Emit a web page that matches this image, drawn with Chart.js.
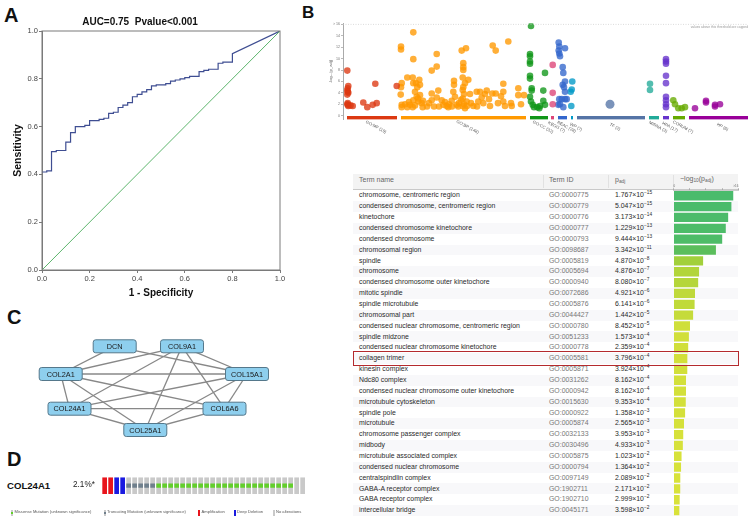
<!DOCTYPE html>
<html>
<head>
<meta charset="utf-8">
<title>Figure</title>
<script src="https://cdn.jsdelivr.net/npm/chart.js@4.4.1/dist/chart.umd.min.js"></script>
<style>
  body { margin: 0; background: #fff; }
  #page { position: relative; width: 753px; height: 526px; overflow: hidden; font-family: "Liberation Sans", Arial, sans-serif; color: #222; }
  #page canvas { position: absolute; }
  .txt { position: absolute; white-space: nowrap; }
  .panel { position: absolute; font-weight: bold; line-height: 1; color: #111; }
  sup { font-size: 4.8px; vertical-align: 2.8px; line-height: 0; }
  sub { font-size: 4.8px; vertical-align: -1.4px; line-height: 0; }
</style>
</head>
<body>
<div id="page">
  <div class="panel" style="left:4px;top:5px;font-size:20px">A</div>
  <div class="panel" style="left:302px;top:4px;font-size:17px">B</div>
  <div class="panel" style="left:7px;top:307px;font-size:20px">C</div>
  <div class="panel" style="left:7px;top:449px;font-size:20px">D</div>
  <canvas id="roc" width="300" height="305" style="left:0;top:0"></canvas>
  <canvas id="manhattan" width="453" height="140" style="left:300px;top:0"></canvas>
  <div id="table"></div>
  <canvas id="bars" width="66" height="333" style="left:673px;top:183px"></canvas>
  <canvas id="network" width="300" height="115" style="left:0;top:330px"></canvas>
  <canvas id="onco" width="215" height="30" style="left:95px;top:470px"></canvas>
</div>
<script>
// ---- A: ROC curve ----
var stepFpr = [0, 0.02, 0.04, 0.06, 0.10, 0.12, 0.14, 0.18, 0.20, 0.24, 0.26, 0.28, 0.30, 0.32, 0.34, 0.36, 0.38,
  0.40, 0.42, 0.44, 0.46, 0.48, 0.52, 0.54, 0.56, 0.58, 0.60, 0.62, 0.66, 0.68, 0.70, 0.74, 0.76, 0.80];
var stepTpr = [0.41, 0.415, 0.495, 0.50, 0.535, 0.575, 0.60, 0.605, 0.625, 0.63, 0.635, 0.655, 0.66, 0.68, 0.69, 0.70, 0.725,
  0.735, 0.745, 0.755, 0.77, 0.775, 0.78, 0.79, 0.795, 0.80, 0.805, 0.81, 0.83, 0.835, 0.84, 0.865, 0.87, 0.905];
var rocTitle = 'AUC=0.75  Pvalue<0.001';

// ---- B: g:Profiler manhattan ----
var srcNames = ['GO:MF (19)', 'GO:BP (148)', 'GO:CC (32)', 'KEGG (7)', 'REAC (28)', 'WP (7)', 'TF (2)', 'MIRNA (3)', 'HPA (17)', 'CORUM (7)', 'HP (6)'];
var srcStart = [4, 58, 187, 208, 215, 228, 234, 306, 320, 330, 346];
var srcEnd = [54, 183, 205, 211, 224, 230, 302, 316, 326, 342, 405];
var mfX = [4.3, 5.3, 4.7, 4.3, 5.3, 4.3, 4.7, 5.3, 9.7, 20.3, 24.3, 29.7, 33.7, 32.3, 53.7, 4.8, 5.0, 4.3, 7.5];
var mfY = [7.9, 5.2, 4.8, 4.4, 4.0, 3.7, 2.2, 1.7, 1.7, 2.3, 1.5, 1.9, 2.2, 5.6, 5.2, 4.2, 1.9, 2.0, 1.8];
var bpX = [58, 58, 58.7, 58, 57.7, 58.7, 58.7, 70.3, 70.3, 64.3, 69.7, 70.3, 73, 74.3, 72, 73.7, 77, 70.3, 67, 75.3,
  78.7, 69.7, 64.3, 77, 76.3, 79.7, 88.7, 93.7, 93.7, 88.7, 95.3, 88.7, 91, 93.7, 98.7, 100.3, 103.7, 105.3, 108.7, 111,
  111, 110.3, 112, 113.7, 115.3, 118.7, 123, 120.3, 120.3, 120.3, 119.7, 122, 120.3, 119.7, 121, 119.7, 123.7, 119.7, 122, 125.3,
  127, 130.3, 133.7, 135.3, 137, 138.7, 140.3, 143.7, 147, 149.7, 152.7, 149.3, 152.7, 160.3, 160.3, 160.3, 162, 165.3, 168.7, 175.3,
  175.3, 181, 62, 66, 72, 75, 80, 84, 86, 96, 102, 106, 109, 116, 118, 121, 124, 128, 134, 142, 146, 155, 158, 168, 178];
var bpY = [12.1, 11.6, 5.7, 5.0, 3.7, 1.9, 1.5, 14.6, 9.9, 6.7, 6.7, 5.7, 5.7, 5.0, 4.2, 3.3, 3.6, 2.7, 1.9, 2.5,
  2.2, 1.5, 1.5, 5.4, 6.3, 1.5, 7.9, 8.6, 10.8, 3.9, 4.4, 2.7, 1.6, 3.2, 2.7, 1.9, 1.7, 1.5, 2.6, 6.1,
  5.4, 4.2, 3.3, 1.9, 1.6, 11.4, 11.8, 9.2, 8.5, 8.0, 6.7, 5.7, 5.0, 4.5, 3.8, 3.0, 2.5, 1.7, 1.3, 6.3,
  3.8, 1.7, 4.2, 2.5, 4.2, 3.2, 2.2, 4.4, 1.7, 12.3, 11.4, 3.9, 3.9, 5.6, 4.2, 2.5, 1.7, 13.0, 1.7, 4.8,
  3.6, 3.6, 2.0, 2.4, 1.8, 3.0, 2.6, 1.6, 2.2, 1.6, 2.4, 2.0, 1.6, 2.2, 2.8, 2.0, 1.7, 2.2, 1.6, 3.8, 2.9, 2.2, 3.4, 2.2, 2.0];
var ccX = [188, 187, 187, 187, 187, 187, 187, 188.7, 188.7, 187, 188, 189.7, 191, 194.3, 197, 200.3, 202, 200.3, 202, 196.3];
var ccY = [15.7, 10.8, 10.4, 9.5, 9.1, 7.0, 6.5, 4.8, 4.4, 3.3, 2.5, 1.9, 1.5, 1.5, 1.7, 4.4, 7.5, 2.6, 1.9, 1.3];
var keggX = [209.7, 209.7, 209.7];
var keggY = [8.9, 4.0, 2.0];
var reacX = [215.7, 216.3, 215.7, 216.3, 222, 217, 219.7, 220.3, 222, 219.7, 221, 222, 216.3, 218.7, 222, 223.7, 217, 220.3, 215.3];
var reacY = [12.8, 12.1, 11.4, 10.9, 11.8, 10.4, 8.5, 7.5, 6.0, 5.4, 5.0, 4.2, 2.9, 2.9, 2.9, 2.9, 2.0, 1.5, 1.9];
var wpX = [229.3, 228.7, 227.7, 228.3];
var wpY = [6.0, 4.6, 4.2, 1.7];
var tfX = [267];
var tfY = [2.0];
var mirnaX = [307, 307];
var mirnaY = [5.6, 4.5];
var hpaX = [323, 323, 323, 323, 323, 323, 323, 323, 323];
var hpaY = [9.9, 9.5, 9.1, 7.0, 5.7, 3.3, 2.7, 2.0, 1.5];
var corumX = [330.3, 332, 335.3, 338.7, 342];
var corumY = [2.7, 2.0, 1.3, 1.3, 1.5];
var hpX = [352, 363, 363, 372, 372, 377];
var hpY = [1.3, 2.6, 2.3, 1.9, 1.6, 2.0];
var yTicks = [0, 2, 4, 6, 8, 10, 12, 14, 16];

// ---- B: table ----
var termNames = ['chromosome, centromeric region', 'condensed chromosome, centromeric region', 'kinetochore',
  'condensed chromosome kinetochore', 'condensed chromosome', 'chromosomal region', 'spindle', 'chromosome',
  'condensed chromosome outer kinetochore', 'mitotic spindle', 'spindle microtubule', 'chromosomal part',
  'condensed nuclear chromosome, centromeric region', 'spindle midzone', 'condensed nuclear chromosome kinetochore',
  'collagen trimer', 'kinesin complex', 'Ndc80 complex', 'condensed nuclear chromosome outer kinetochore',
  'microtubule cytoskeleton', 'spindle pole', 'microtubule', 'chromosome passenger complex', 'midbody',
  'microtubule associated complex', 'condensed nuclear chromosome', 'centralspindlin complex',
  'GABA-A receptor complex', 'GABA receptor complex', 'intercellular bridge'];
var termIds = ['GO:0000775', 'GO:0000779', 'GO:0000776', 'GO:0000777', 'GO:0000793', 'GO:0098687', 'GO:0005819',
  'GO:0005694', 'GO:0000940', 'GO:0072686', 'GO:0005876', 'GO:0044427', 'GO:0000780', 'GO:0051233', 'GO:0000778',
  'GO:0005581', 'GO:0005871', 'GO:0031262', 'GO:0000942', 'GO:0015630', 'GO:0000922', 'GO:0005874', 'GO:0032133',
  'GO:0030496', 'GO:0005875', 'GO:0000794', 'GO:0097149', 'GO:1902711', 'GO:1902710', 'GO:0045171'];
var pAdj = [1.767e-15, 5.047e-15, 3.173e-14, 1.229e-13, 9.444e-13, 3.342e-11, 4.870e-8, 4.876e-7, 8.080e-7,
  4.921e-6, 6.141e-6, 1.442e-5, 8.452e-5, 1.573e-4, 2.359e-4, 3.796e-4, 3.924e-4, 8.162e-4, 8.162e-4, 9.353e-4,
  1.358e-3, 2.565e-3, 3.953e-3, 4.933e-3, 1.023e-2, 1.364e-2, 2.089e-2, 2.171e-2, 2.999e-2, 3.598e-2];
var highlightTerm = 'collagen trimer';

// ---- C: network ----
var nodeNames = ['DCN', 'COL9A1', 'COL2A1', 'COL15A1', 'COL24A1', 'COL6A6', 'COL25A1'];
var nodeX = [114.7, 182, 60.7, 247, 69.5, 224.5, 145.3];
var nodeY = [16.3, 16.3, 44, 44, 78.7, 78.7, 100];
var edges = [['DCN', 'COL2A1'], ['DCN', 'COL15A1'], ['COL9A1', 'COL2A1'], ['COL9A1', 'COL15A1'], ['COL9A1', 'COL24A1'],
  ['COL9A1', 'COL25A1'], ['COL9A1', 'COL6A6'], ['COL2A1', 'COL15A1'], ['COL2A1', 'COL24A1'], ['COL2A1', 'COL25A1'],
  ['COL2A1', 'COL6A6'], ['COL15A1', 'COL24A1'], ['COL15A1', 'COL6A6'], ['COL15A1', 'COL25A1'], ['COL24A1', 'COL6A6'],
  ['COL24A1', 'COL25A1'], ['COL6A6', 'COL25A1']];

// ---- D: oncoprint ----
var oncoGene = 'COL24A1';
var oncoFreq = '2.1%*';
var cnaTrack = ['amp', 'amp', 'del', 'del', '', '', '', '', '', '', '', '', '', '', '', '', '', '',
  '', '', '', '', '', '', '', '', '', '', '', '', '', '', '', ''];
var mutTrack = ['', '', '', '', 'trunc', 'trunc', 'trunc', 'trunc', 'trunc', 'mis', 'mis', 'mis', 'mis', 'mis', 'mis', 'mis',
  'mis', 'mis', 'mis', 'mis', 'mis', 'mis', 'mis', 'mis', 'mis', 'mis', 'mis', 'mis', 'mis', 'mis', 'mis', 'mis', '', ''];
var oncoLegend = ['Missense Mutation (unknown significance)', 'Truncating Mutation (unknown significance)',
  'Amplification', 'Deep Deletion', 'No alterations'];

Chart.defaults.font.family = '"Liberation Sans", Arial, sans-serif';
Chart.defaults.animation = false;
Chart.defaults.responsive = false;
Chart.defaults.devicePixelRatio = 1;
Chart.defaults.plugins.legend.display = false;
Chart.defaults.plugins.tooltip.enabled = false;

var page = document.getElementById('page');
var tableLayer = document.getElementById('table');
function addText(html, x, y, size, color, extra, parent) {
  var d = document.createElement('div');
  d.className = 'txt';
  d.innerHTML = html;
  d.style.left = x + 'px';
  d.style.top = (y - size * 0.62) + 'px';
  d.style.fontSize = size + 'px';
  d.style.lineHeight = (size * 1.2) + 'px';
  d.style.color = color;
  if (extra) Object.assign(d.style, extra);
  (parent || page).appendChild(d);
  return d;
}
function addBox(x, y, w, h, style, parent) {
  var d = document.createElement('div');
  d.style.position = 'absolute';
  d.style.left = x + 'px';
  d.style.top = y + 'px';
  d.style.width = w + 'px';
  d.style.height = h + 'px';
  d.style.boxSizing = 'border-box';
  Object.assign(d.style, style);
  (parent || page).appendChild(d);
  return d;
}
function rgba(hex, a) {
  var n = parseInt(hex.slice(1), 16);
  return 'rgba(' + (n >> 16) + ',' + ((n >> 8) & 255) + ',' + (n & 255) + ',' + a + ')';
}

// ================= A =================
var rocPts = [];
for (var i = 0; i < stepFpr.length; i++) {
  if (i > 0) rocPts.push({ x: stepFpr[i], y: stepTpr[i - 1] });
  rocPts.push({ x: stepFpr[i], y: stepTpr[i] });
}
rocPts.push({ x: 1, y: 1 });

var framePlugin = {
  id: 'frame',
  afterDraw: function(chart) {
    var a = chart.chartArea, ctx = chart.ctx;
    ctx.save();
    ctx.strokeStyle = '#7a7a7a';
    ctx.lineWidth = 1;
    ctx.strokeRect(a.left, a.top, a.right - a.left, a.bottom - a.top);
    ctx.restore();
  }
};

new Chart(document.getElementById('roc'), {
  type: 'scatter',
  data: {
    datasets: [
      { data: [{ x: 0, y: 0 }, { x: 1, y: 1 }], showLine: true, borderColor: '#5cb56c', borderWidth: 1, pointRadius: 0 },
      { data: rocPts, showLine: true, borderColor: '#3f4e92', borderWidth: 1.2, pointRadius: 0 }
    ]
  },
  options: {
    layout: { padding: { left: 0, right: 20, top: 0, bottom: 0 } },
    plugins: {
      title: { display: true, text: rocTitle, color: '#111', font: { size: 10, weight: 'bold' }, padding: { top: 16, bottom: 3 } }
    },
    scales: {
      x: {
        type: 'linear', min: 0, max: 1,
        ticks: { stepSize: 0.2, callback: function(v) { return v.toFixed(1); }, font: { size: 7.5 }, color: '#444', padding: 1, maxRotation: 0 },
        grid: { drawOnChartArea: false, tickLength: 3, color: '#7a7a7a' },
        border: { color: '#7a7a7a' },
        title: { display: true, text: '1 - Specificity', color: '#111', font: { size: 10, weight: 'bold' }, padding: { top: 0, bottom: 6 } },
        afterFit: function(s) { s.height = 35; }
      },
      y: {
        type: 'linear', min: 0, max: 1,
        ticks: { stepSize: 0.2, callback: function(v) { return v.toFixed(1); }, font: { size: 7.5 }, color: '#444', padding: 1 },
        grid: { drawOnChartArea: false, tickLength: 3, color: '#7a7a7a' },
        border: { color: '#7a7a7a' },
        title: { display: true, text: 'Sensitivity', color: '#111', font: { size: 10.5, weight: 'bold' }, padding: { top: 12, bottom: 0 } },
        afterFit: function(s) { s.width = 42; }
      }
    }
  },
  plugins: [framePlugin]
});

// ================= B manhattan =================
var srcColors = ['#dc3912', '#ff9900', '#109618', '#dd4477', '#3366cc', '#0099c6', '#5574a6', '#22aa99', '#6633cc', '#66aa00', '#990099'];
var srcX = [mfX, bpX, ccX, keggX, reacX, wpX, tfX, mirnaX, hpaX, corumX, hpX];
var srcY = [mfY, bpY, ccY, keggY, reacY, wpY, tfY, mirnaY, hpaY, corumY, hpY];
var mhDatasets = [];
srcNames.forEach(function(n, k) {
  mhDatasets.push({
    data: [{ x: srcStart[k], y: -0.37 }, { x: srcEnd[k], y: -0.37 }],
    showLine: true, borderColor: srcColors[k], borderWidth: 3.6, borderCapStyle: 'butt', pointRadius: 0
  });
});
mhDatasets.push({
  data: [{ x: 0, y: 16 }, { x: 405, y: 16 }], showLine: true, borderColor: '#c8c8c8',
  borderWidth: 0.7, borderDash: [1, 1.5], pointRadius: 0
});
srcNames.forEach(function(n, k) {
  mhDatasets.push({
    data: srcX[k].map(function(x, j) { return { x: x, y: srcY[k][j] }; }),
    backgroundColor: rgba(srcColors[k], 0.78), borderWidth: 0,
    pointRadius: k === 6 ? 4.5 : 3.3
  });
});

var mhLabels = {
  id: 'mhLabels',
  afterDraw: function(chart) {
    var ctx = chart.ctx, xs = chart.scales.x, ys = chart.scales.y;
    ctx.save();
    ctx.fillStyle = '#555';
    ctx.font = '4.3px "Liberation Sans", Arial, sans-serif';
    ctx.textAlign = 'center';
    ctx.textBaseline = 'middle';
    srcNames.forEach(function(n, k) {
      var px = xs.getPixelForValue((srcStart[k] + srcEnd[k]) / 2) + 4;
      ctx.save();
      ctx.translate(px, 127);
      ctx.rotate(28 * Math.PI / 180);
      ctx.fillText(n, 0, 0);
      ctx.restore();
    });
    ctx.fillStyle = '#999';
    ctx.font = '3.3px "Liberation Sans", Arial, sans-serif';
    ctx.textAlign = 'right';
    ctx.fillText('values above this threshold are capped', chart.chartArea.right, ys.getPixelForValue(16) + 2.4);
    ctx.restore();
  }
};

new Chart(document.getElementById('manhattan'), {
  type: 'scatter',
  data: { datasets: mhDatasets },
  options: {
    layout: { padding: { left: 0, right: 5, top: 23.2, bottom: 20.3 } },
    scales: {
      x: { type: 'linear', min: 0, max: 405, display: false },
      y: {
        type: 'linear', min: -0.7, max: 16.2,
        afterBuildTicks: function(s) { s.ticks = yTicks.map(function(v) { return { value: v }; }); },
        ticks: { font: { size: 3.6 }, color: '#777', padding: 1, callback: function(v) { return v === 16 ? '> 16' : v; } },
        grid: { drawOnChartArea: false, tickLength: 2, color: '#bbb' },
        border: { color: '#aaa' },
        title: { display: true, text: '-log\u2081\u2080(p_adj)', color: '#666', font: { size: 4.2 }, padding: { top: 28.5, bottom: 0 } },
        afterFit: function(s) { s.width = 43; }
      }
    }
  },
  plugins: [mhLabels]
});

// ================= B table =================
var rowTop = 190.3, rowH = 10.857;
addBox(353, 173.5, 385, 16, { background: '#f3f3f3', borderBottom: '1px solid #c9c9c9' }, tableLayer);
[543, 608, 673].forEach(function(x) { addBox(x, 175, 1, 13, { background: '#e1e1e1' }, tableLayer); });
addText('Term name', 359, 180.7, 7, '#666', null, tableLayer);
addText('Term ID', 549, 180.7, 7, '#666', null, tableLayer);
addText('p<sub>adj</sub>', 615, 180.2, 7, '#666', null, tableLayer);
addText('\u2212log<sub>10</sub>(p<sub>adj</sub>)', 680, 179.6, 7, '#666', null, tableLayer);
termNames.forEach(function(name, i) {
  var yc = rowTop + rowH * (i + 0.5);
  if (i % 2 === 1) addBox(353, rowTop + rowH * i, 385, rowH, { background: '#f8f8fa' }, tableLayer);
  addText(name, 359, yc, 6.9, '#2a2a2a', null, tableLayer);
  addText(termIds[i], 549, yc, 6.9, '#777', null, tableLayer);
  var parts = pAdj[i].toExponential(3).split('e');
  addText(parts[0] + '\u00d710<sup>' + parts[1].replace('-', '\u2212') + '</sup>', 615, yc, 6.9, '#2a2a2a', null, tableLayer);
});

var barStops = [[0, [222, 228, 58]], [4, [208, 223, 58]], [6.5, [176, 212, 58]], [8, [150, 204, 60]],
  [10, [95, 190, 88]], [12, [78, 188, 104]], [16, [72, 186, 110]]];
function barColor(v) {
  for (var k = 1; k < barStops.length; k++) {
    if (v <= barStops[k][0]) {
      var a = barStops[k - 1], b = barStops[k], t = (v - a[0]) / (b[0] - a[0]);
      var c = a[1].map(function(ch, j) { return Math.round(ch + (b[1][j] - ch) * t); });
      return 'rgb(' + c.join(',') + ')';
    }
  }
  return 'rgb(72,186,110)';
}
var negLog = pAdj.map(function(p) { return Math.min(16, -Math.log10(p)); });

new Chart(document.getElementById('bars'), {
  type: 'bar',
  data: {
    labels: termNames,
    datasets: [{ data: negLog, backgroundColor: negLog.map(barColor), barPercentage: 0.86, categoryPercentage: 1 }]
  },
  options: {
    indexAxis: 'y',
    layout: { padding: { left: 0.3, right: 0.7, top: 0, bottom: 0 } },
    scales: {
      x: {
        position: 'top', min: 0, max: 16,
        ticks: { stepSize: 4, font: { size: 3 }, color: '#666', padding: 0.5, maxRotation: 0, align: 'inner',
          callback: function(v) { return v === 0 ? '0' : (v === 16 ? '>16' : ''); } },
        grid: { drawOnChartArea: false, tickLength: 2, color: '#aaa' },
        border: { color: '#ccc' },
        afterFit: function(s) { s.height = 7.3; }
      },
      y: { display: false }
    }
  }
});

var hi = termNames.indexOf(highlightTerm);
addBox(353, rowTop + rowH * hi - 1.8, 386, rowH + 3.4, { border: '1.3px solid #b42a2e' });

// ================= C network =================
var nodeBoxes = {
  id: 'nodeBoxes',
  afterDatasetsDraw: function(chart) {
    var ctx = chart.ctx, meta = chart.getDatasetMeta(chart.data.datasets.length - 1);
    ctx.save();
    ctx.font = '7.3px "Liberation Sans", Arial, sans-serif';
    ctx.textAlign = 'center';
    ctx.textBaseline = 'middle';
    meta.data.forEach(function(pt, k) {
      var w = 43, h = 13, r = 2.5, x = pt.x - w / 2, y = pt.y - h / 2;
      ctx.beginPath();
      ctx.moveTo(x + r, y);
      ctx.lineTo(x + w - r, y); ctx.quadraticCurveTo(x + w, y, x + w, y + r);
      ctx.lineTo(x + w, y + h - r); ctx.quadraticCurveTo(x + w, y + h, x + w - r, y + h);
      ctx.lineTo(x + r, y + h); ctx.quadraticCurveTo(x, y + h, x, y + h - r);
      ctx.lineTo(x, y + r); ctx.quadraticCurveTo(x, y, x + r, y);
      ctx.closePath();
      ctx.fillStyle = '#8ecfee';
      ctx.fill();
      ctx.strokeStyle = '#55788b';
      ctx.lineWidth = 1;
      ctx.stroke();
      ctx.fillStyle = '#1a1a1a';
      ctx.fillText(nodeNames[k], pt.x, pt.y + 0.5);
    });
    ctx.restore();
  }
};
var netDatasets = edges.map(function(e) {
  var a = nodeNames.indexOf(e[0]), b = nodeNames.indexOf(e[1]);
  return { data: [{ x: nodeX[a], y: nodeY[a] }, { x: nodeX[b], y: nodeY[b] }], showLine: true,
    borderColor: '#888888', borderWidth: 1.3, pointRadius: 0 };
});
netDatasets.push({ data: nodeNames.map(function(n, k) { return { x: nodeX[k], y: nodeY[k] }; }), pointRadius: 0 });

new Chart(document.getElementById('network'), {
  type: 'scatter',
  data: { datasets: netDatasets },
  options: {
    layout: { padding: 0 },
    scales: {
      x: { type: 'linear', min: 0, max: 300, display: false },
      y: { type: 'linear', min: 0, max: 115, reverse: true, display: false }
    }
  },
  plugins: [nodeBoxes]
});

// ================= D oncoprint =================
var cnaColors = { amp: '#e8141c', del: '#1a1ae0', '': '#c9c9c9' };
var mutColors = { mis: '#62cf2a', trunc: '#6f7f8c' };
new Chart(document.getElementById('onco'), {
  type: 'bar',
  data: {
    labels: cnaTrack.map(function(c, i) { return 'S' + (i + 1); }),
    datasets: [
      { order: 2, data: cnaTrack.map(function() { return [0, 1]; }), backgroundColor: cnaTrack.map(function(c) { return cnaColors[c]; }) },
      { order: 1, data: mutTrack.map(function(m) { return m ? [0.37, 0.63] : null; }),
        backgroundColor: mutTrack.map(function(m) { return mutColors[m] || 'rgba(0,0,0,0)'; }) }
    ]
  },
  options: {
    datasets: { bar: { grouped: false, barPercentage: 0.78, categoryPercentage: 1 } },
    layout: { padding: { left: 6.65, right: 4.35, top: 7.3, bottom: 6 } },
    scales: {
      x: { display: false },
      y: { display: false, min: 0, max: 1 }
    }
  }
});

addText(oncoGene, 7, 485.5, 9.6, '#111', { fontWeight: 'bold' });
addText(oncoFreq, 73, 485.5, 8.2, '#222');
var legX = [11, 103.5, 198, 233.5, 272.5];
var legFill = ['#c9c9c9', '#c9c9c9', '#e8141c', '#1a1ae0', '#c9c9c9'];
var legMark = ['#62cf2a', '#6f7f8c', null, null, null];
oncoLegend.forEach(function(t, k) {
  addBox(legX[k], 509.5, 2, 6.5, { background: legFill[k] });
  if (legMark[k]) addBox(legX[k], 511.5, 2, 2.5, { background: legMark[k] });
  addText(t, legX[k] + 3.5, 512.7, 4.1, '#555');
});
</script>
</body>
</html>
